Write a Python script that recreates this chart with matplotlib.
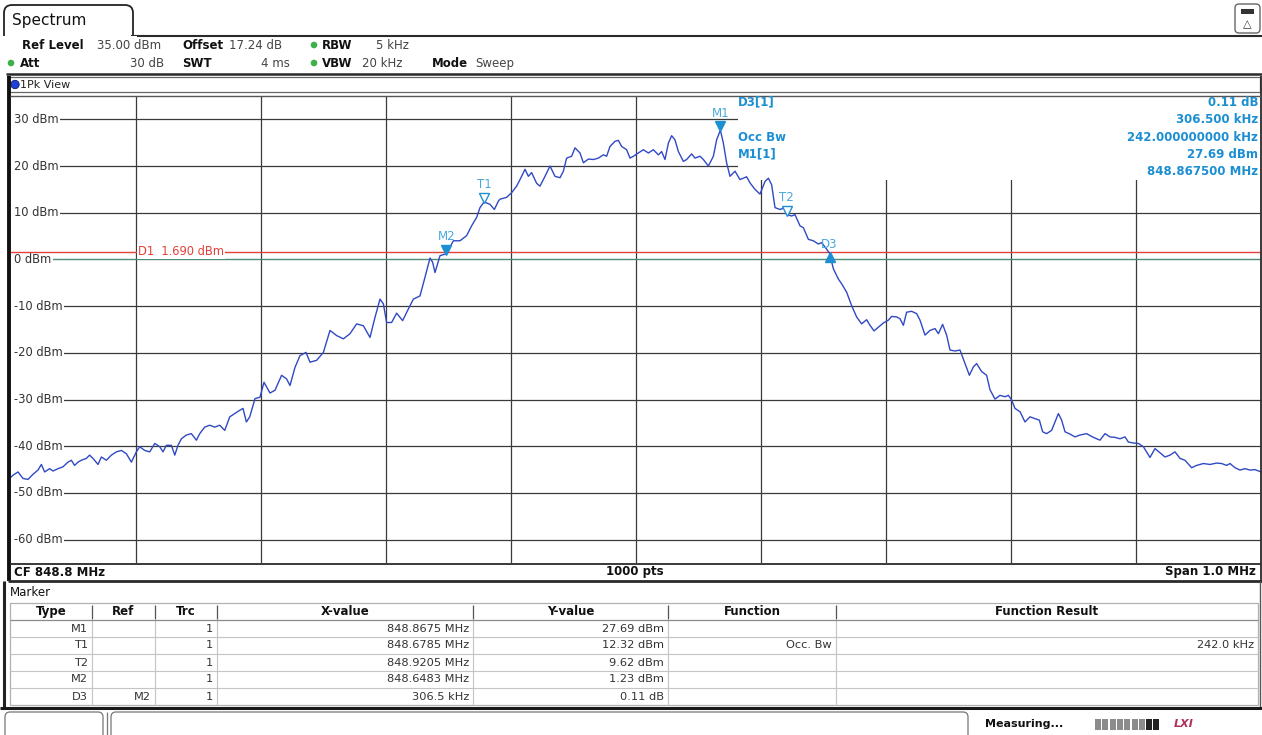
import matplotlib
matplotlib.use("Agg")
import matplotlib.pyplot as plt
from matplotlib.patches import Circle, FancyBboxPatch, Rectangle
from matplotlib.transforms import offset_copy

plt.rcParams["font.family"] = ["DejaVu Sans"]

# analyzer settings
CENTER_MHZ = 848.8
SPAN_MHZ = 1.0
REF_LEVEL_DBM = 35.0
RANGE_DB = 100.0
DISPLAY_LINE_DBM = 1.69
LEVEL_TICKS = [30, 20, 10, 0, -10, -20, -30, -40, -50, -60]

# trace: offset from start frequency (kHz), level (dBm)
TRACE_OFFSET_KHZ = [
    0, 1.6, 5.6, 9.6, 13.6, 17.6, 21.6, 24.3, 26.9, 30.9, 33.6, 37.6, 41.6, 45.6, 48.3, 50.9,
    53.6, 56.3, 60.3, 62.9, 65.6, 69.6, 72.3, 76.3, 80.3, 84.3, 88.3, 92.3, 96.3, 100.3, 103,
    107, 111, 115, 119, 121.6, 124.3, 128.3, 131, 133.6, 136.3, 140.3, 144.3, 148.3, 151, 155,
    159, 163, 167, 171, 175, 179, 183, 185.6, 188.3, 191,
    195.2, 199.2, 202.4, 207.2, 211.2, 216.5, 220.5, 223.2, 227.2, 231.2, 236, 239.2, 244.5,
    249.9, 255.2, 260.5, 265.9, 271.2, 276.5, 281.9, 287.2, 291.2, 295.2, 297.9, 300.5, 304.5,
    308.5, 313.3, 317.9, 321.9, 327.2, 331.2, 335.2, 337.3, 339.2, 343.2, 348.3, 353.9, 359.2,
    364.5, 368.5, 372.5, 375.2, 378.5, 383.2, 386.7, 389.9,
    391.2, 396.5, 400.5, 404.5, 407.2, 411.2, 413.9, 416.5, 420.5, 423.2, 427.2, 431.2, 435.2,
    439.2, 441.9, 444.5, 448.5, 451.2, 455.2, 457.9, 461.9, 465.9, 469.9, 473.9, 476.5, 479.2,
    483.2, 485.9, 488.5, 492.5, 495.2, 497.9, 501.9, 505.9, 509.9, 513.9, 517.9, 520.5, 523.2,
    525.9, 528.5, 531.2, 533.9, 537.9, 540.5, 544.5, 547.2, 551.2, 553.9, 557.9, 561.9, 564.5,
    567.5, 569.9, 572.5, 575.2, 579.2, 583.2, 588.5,
    591.2, 595.2, 599.2, 603.2, 605.9, 608.5, 611.2, 615.2, 619.2, 620.5, 624.5, 627.2, 631.2,
    633.9, 637.9, 641.9, 645.9, 648.5, 652.5, 654.8, 657.9, 661.9, 664.5, 668.5, 672.5, 676.5,
    680.5, 684.5, 687.2, 690.4, 693.9, 697.9, 701.9, 704.5, 708.5, 711.2, 713.9, 716.5, 720.5,
    724.5, 727.2, 731.2, 735.2, 739.2, 741.9, 745.3, 748.5, 751.2, 755.2, 759.2, 763.2, 766.7,
    769.9, 772.5, 776.5, 780.5, 783.2, 787.2,
    791.2, 795.2, 797.9, 800.5, 803.2, 807.2, 811.2, 815.2, 819.2, 822.7, 825.3, 828.5, 832.5,
    835.2, 837.9, 840.5, 843.2, 847.2, 851.2, 855.2, 860.5, 864.5, 868.5, 871.2, 875.2, 879.2,
    883.2, 887.2, 891.2, 893.9, 897.9, 901.9, 905.9, 911.2, 915.2, 919.2, 923.2, 927.2, 931.2,
    935.2, 939.2, 944.5, 948.5, 953.9, 959.2, 964.5, 968.5, 972.5, 975.2, 979.2, 983.2, 987.2,
    991.2, 995.2, 1000,
]
TRACE_DBM = [
    -46.6, -46.2, -45.5, -46.9, -47.1, -46.0, -45.1, -43.9, -45.5, -44.8, -45.3, -44.8, -44.4,
    -43.4, -43.0, -44.1, -43.4, -43.0, -42.6, -41.9, -42.6, -43.9, -42.3, -43.0, -41.9, -41.2,
    -40.9, -41.6, -43.4, -41.2, -40.1, -40.9, -41.2, -39.4, -40.1, -41.2, -39.8, -39.8, -41.9,
    -39.8, -38.4, -37.6, -37.3, -38.7, -37.3, -35.9, -35.5, -35.9, -35.5, -36.6, -33.7, -33.0,
    -32.3, -31.9, -34.8, -33.7,
    -29.8, -29.5, -26.3, -28.6, -28.0, -24.8, -25.6, -27.0, -23.1, -20.6, -19.9, -22.0, -21.6,
    -19.9, -15.2, -16.3, -17.0, -15.9, -13.8, -14.2, -16.7, -12.4, -8.5, -9.5, -13.5, -13.5,
    -11.5, -13.1, -10.6, -8.5, -7.8, -3.8, 0.3, -0.6, -2.8, 0.8, 1.23, 4.0, 4.0,
    5.1, 7.2, 9.0, 11.1, 12.32, 11.8, 10.7, 12.5,
    12.9, 13.3, 14.3, 15.7, 17.1, 19.3, 17.8, 18.6, 16.3, 15.7, 17.8, 20.0, 17.8,
    17.5, 18.9, 21.7, 22.1, 23.9, 22.8, 20.7, 21.5, 21.4, 21.7, 22.4, 22.1, 24.2,
    25.3, 25.5, 24.2, 23.5, 21.7, 22.1, 22.8, 23.5, 22.8, 23.5, 22.4, 23.1, 21.4,
    24.9, 26.5, 25.6, 23.1, 21.0, 21.4, 22.6, 21.7, 22.1, 21.4, 20.0, 22.1, 25.6,
    27.69, 24.9, 20.7, 17.8, 18.9, 17.1, 17.7,
    16.4, 15.0, 14.0, 16.7, 17.4, 16.0, 11.1, 10.7, 11.1, 9.62, 9.3, 9.6, 7.2,
    6.8, 4.3, 4.0, 3.3, 3.6, 2.2, 1.34, -2.0, -4.2, -5.2, -7.0, -9.9, -12.3,
    -13.8, -12.9, -14.1, -15.3, -14.5, -13.6, -13.0, -12.2, -12.3, -12.7, -14.1, -11.3, -11.1,
    -11.6, -13.0, -16.2, -15.2, -14.8, -15.9, -13.9, -16.2, -19.4, -19.6, -19.4, -22.3, -24.8,
    -23.0, -22.3, -24.0, -24.8, -27.9, -29.9,
    -29.1, -29.4, -29.1, -30.1, -31.9, -32.6, -34.8, -33.7, -34.1, -34.4, -36.9, -37.3, -36.6,
    -34.8, -33.0, -34.4, -36.9, -37.4, -38.0, -37.6, -37.3, -37.9, -38.4, -38.7, -37.3, -38.0,
    -38.1, -38.4, -38.0, -39.1, -39.3, -39.4, -40.1, -42.4, -40.5, -41.4, -42.3, -41.9, -41.2,
    -42.6, -43.0, -44.6, -44.1, -43.7, -43.9, -43.6, -43.7, -44.1, -43.7, -44.6, -45.1, -44.8,
    -45.1, -45.0, -45.5,
]

MARKER_NAMES = ["M1", "T1", "T2", "M2", "D3"]
MARKER_FREQ_MHZ = [848.8675, 848.6785, 848.9205, 848.6483, 848.9548]
MARKER_LEVEL_DBM = [27.69, 12.32, 9.62, 1.23, 1.34]

TABLE_HEADER = ["Type", "Ref", "Trc", "X-value", "Y-value", "Function", "Function Result"]
TABLE_TYPE = ["M1", "T1", "T2", "M2", "D3"]
TABLE_REF = ["", "", "", "", "M2"]
TABLE_TRC = ["1", "1", "1", "1", "1"]
TABLE_X = ["848.8675 MHz", "848.6785 MHz", "848.9205 MHz", "848.6483 MHz", "306.5 kHz"]
TABLE_Y = ["27.69 dBm", "12.32 dBm", "9.62 dBm", "1.23 dBm", "0.11 dB"]
TABLE_FUNC = ["", "Occ. Bw", "", "", ""]
TABLE_RESULT = ["", "242.0 kHz", "", "", ""]

INFO_LABELS = ["D3[1]", "", "Occ Bw", "M1[1]", ""]
INFO_VALUES = ["0.11 dB", "306.500 kHz", "242.000000000 kHz", "27.69 dBm", "848.867500 MHz"]

W, H = 1262, 735
GRID = "#3a3a3a"
TRACE = "#3049c4"
MK = "#1e8fd0"
MK_TXT = "#4aa8dc"
INFO = "#1c8fd2"
VAL = "#444444"
RED = "#e5403a"

fig = plt.figure(figsize=(W / 100, H / 100), dpi=100)

# ---- diagram area ----
ax = fig.add_axes([11 / W, 1 - 563 / H, 1250 / W, 467 / H], zorder=1)
ax.patch.set_visible(False)
for s in ax.spines.values():
    s.set_visible(False)
ax.set_xticks([]); ax.set_yticks([])
start = CENTER_MHZ - SPAN_MHZ / 2
ax.set_xlim(start, start + SPAN_MHZ)
ax.set_ylim(REF_LEVEL_DBM - RANGE_DB, REF_LEVEL_DBM)

for k in range(1, 10):
    ax.axvline(start + k * SPAN_MHZ / 10, color=GRID, lw=0.9, zorder=1)
for lvl in LEVEL_TICKS:
    ax.axhline(lvl, color="#4f8a73" if lvl == 0 else GRID, lw=1.0 if lvl == 0 else 0.9, zorder=1)
    ax.text(0.0025, lvl, f"{lvl} dBm", transform=ax.get_yaxis_transform(), ha="left", va="center",
            fontsize=8.3, color="#333333", zorder=3,
            bbox=dict(boxstyle="square,pad=0.12", fc="white", ec="none"))
# blank strip left of the level labels
ax.add_patch(Rectangle((0, 0), 0.004, 1, transform=ax.transAxes, fc="white", ec="none", zorder=1.5))

ax.axhline(DISPLAY_LINE_DBM, color=RED, lw=1.0, zorder=3.2)
ax.text(start + 0.1016, DISPLAY_LINE_DBM, f"D1  {DISPLAY_LINE_DBM:.3f} dBm", color=RED,
        fontsize=8.3, ha="left", va="center", zorder=3.3,
        bbox=dict(boxstyle="square,pad=0.1", fc="white", ec="none"))

# marker info box covers the upper right grid
ax.add_patch(Rectangle((0.5816, 0.8201), 0.42, 0.18, transform=ax.transAxes, fc="white",
                       ec="none", zorder=2, clip_on=False))

freqs = [start + k / 1000 for k in TRACE_OFFSET_KHZ]
ax.plot(freqs, TRACE_DBM, color=TRACE, lw=1.0, zorder=4)

for name, f, lvl in zip(MARKER_NAMES, MARKER_FREQ_MHZ, MARKER_LEVEL_DBM):
    up = name.startswith("D")
    filled = name.startswith(("M", "D"))
    tr = offset_copy(ax.transData, fig=fig, x=0, y=-4 if up else 4, units="dots")
    ax.plot([f], [lvl], marker="^" if up else "v", ms=7, transform=tr, zorder=5,
            mfc=MK if filled else "white", mec=MK, mew=1.0, ls="none")
    ax.annotate(name, (f, lvl), xytext=(0, 9 if up else 17), textcoords="offset pixels",
                ha="center", va="center", fontsize=8.5, color=MK_TXT, zorder=6)

# ---- screen chrome (pixel coordinates) ----
ov = fig.add_axes([0, 0, 1, 1], zorder=2)
ov.patch.set_visible(False)
ov.set_xlim(0, W); ov.set_ylim(H, 0)
ov.axis("off")


def txt(x, y, s, size=8.5, **kw):
    kw.setdefault("va", "center")
    ov.text(x, y, s, fontsize=size, **kw)


def line(xs, ys, color="#2a2a2a", lw=1.0):
    ov.plot(xs, ys, color=color, lw=lw, solid_capstyle="butt")


# tab
ov.add_patch(FancyBboxPatch((4, 5), 129, 45, boxstyle="round,pad=0,rounding_size=8",
                            fc="white", ec="#222222", lw=1.3))
ov.add_patch(Rectangle((2, 36), 135, 16, fc="white", ec="none", zorder=3))
line([131, W], [35.5, 35.5], lw=1.5)
txt(12, 20, "Spectrum", size=11, color="#111111")

# top right icon
ov.add_patch(FancyBboxPatch((1235, 4), 25, 29, boxstyle="round,pad=0,rounding_size=4",
                            fc="white", ec="#666666", lw=1))
ov.add_patch(Rectangle((1241, 9), 13, 5, fc="#333333", ec="none"))
txt(1247.5, 24, "\u25b3", size=8, ha="center", color="#333333")

# header settings
txt(22, 45, "Ref Level", weight="bold", color="#111111")
txt(97, 45, "35.00 dBm", color=VAL)
txt(182, 45, "Offset", weight="bold", color="#111111")
txt(229, 45, "17.24 dB", color=VAL)
txt(322, 45, "RBW", weight="bold", color="#111111")
txt(376, 45, "5 kHz", color=VAL)
txt(20, 63, "Att", weight="bold", color="#111111")
txt(164, 63, "30 dB", ha="right", color=VAL)
txt(182, 63, "SWT", weight="bold", color="#111111")
txt(290, 63, "4 ms", ha="right", color=VAL)
txt(322, 63, "VBW", weight="bold", color="#111111")
txt(362, 63, "20 kHz", color=VAL)
txt(432, 63, "Mode", weight="bold", color="#111111")
txt(475, 63, "Sweep", color=VAL)
for cx, cy in [(314, 45), (314, 63), (11, 63)]:
    ov.add_patch(Circle((cx, cy), 3.3, fc="#3cb04a", ec="none"))

line([6, W], [73.5, 73.5], lw=1.8)

# view bar
ov.add_patch(Rectangle((9, 77), 1251, 15, fc="white", ec="#666666", lw=0.9))
ov.add_patch(Circle((15, 84.5), 4.2, fc="#1f3fd8", ec="#0a1a70", lw=0.6))
txt(20, 84.5, "1Pk View", size=8, color="#222222")

# diagram frame
line([9, 9], [76, 581], lw=2.8, color="#111111")
line([1261, 1261], [76, 581], lw=1.3)
line([10, 1261], [95.5, 95.5], lw=1.0, color="#555555")
line([10, 1261], [563.5, 563.5], lw=1.3)
line([8, 1262], [581, 581], lw=2.0)
txt(14, 572, f"CF {CENTER_MHZ:.1f} MHz", weight="bold", color="#111111")
txt(635, 572, "1000 pts", weight="bold", ha="center", color="#111111")
txt(1256, 572, f"Span {SPAN_MHZ:.1f} MHz", weight="bold", ha="right", color="#111111")

# info box text
info_rows = [102, 119, 137, 154, 171]
for y, lab, val in zip(info_rows, INFO_LABELS, INFO_VALUES):
    if lab:
        txt(738, y, lab, weight="bold", color=INFO)
    txt(1258, y, val, weight="bold", ha="right", color=INFO)

# marker table
line([4, 4], [581, 707], lw=2.2, color="#222222")
line([1260, 1260], [581, 707], lw=1.0, color="#555555")
txt(10, 593, "Marker", color="#111111")
col_edges = [10, 92, 155, 217, 473, 668, 836, 1258]
top, head_bot, row_h = 603, 620, 17
ov.add_patch(Rectangle((10, top), 1248, head_bot - top + row_h * 5, fc="white",
                       ec="#b0b0b0", lw=0.9))
for x in col_edges[1:-1]:
    line([x, x], [top + 2, head_bot - 1], color="#555555", lw=0.9)
    line([x, x], [head_bot, head_bot + row_h * 5], color="#c4c4c4", lw=0.8)
line([10, 1258], [head_bot, head_bot], color="#8a8a8a", lw=0.9)
for i in range(1, 5):
    line([10, 1258], [head_bot + i * row_h] * 2, color="#c4c4c4", lw=0.8)
for i, h in enumerate(TABLE_HEADER):
    txt((col_edges[i] + col_edges[i + 1]) / 2, 611.5, h, weight="bold", ha="center",
        color="#111111")
columns = [TABLE_TYPE, TABLE_REF, TABLE_TRC, TABLE_X, TABLE_Y, TABLE_FUNC, TABLE_RESULT]
for c, values in enumerate(columns):
    for r, v in enumerate(values):
        if v:
            txt(col_edges[c + 1] - 4, head_bot + row_h * r + row_h / 2, v, ha="right",
                color="#333333", size=8.2)

# status bar
line([0, W], [708, 708], lw=2.2, color="#1a1a1a")
ov.add_patch(FancyBboxPatch((5, 712), 98, 30, boxstyle="round,pad=0,rounding_size=5",
                            fc="white", ec="#777777", lw=0.9))
ov.add_patch(FancyBboxPatch((111, 712), 857, 30, boxstyle="round,pad=0,rounding_size=5",
                            fc="white", ec="#777777", lw=0.9))
line([107, 107], [712, 735], color="#777777", lw=0.9)
txt(985, 724, "Measuring...", weight="bold", size=8, color="#111111")
for i in range(9):
    ov.add_patch(Rectangle((1095 + i * 7.3, 719), 6, 11,
                           fc="#222222" if i >= 7 else "#8c8c8c", ec="none"))
txt(1174, 724, "LXI", weight="bold", style="italic", size=8, color="#b0305a")

fig.savefig("out.png", dpi=100)
